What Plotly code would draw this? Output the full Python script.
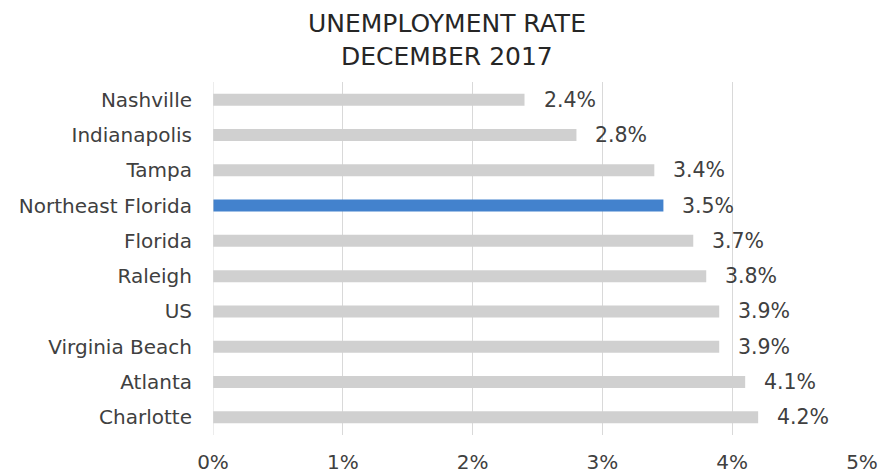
import plotly.graph_objects as go

categories = ["Nashville", "Indianapolis", "Tampa", "Northeast Florida", "Florida",
              "Raleigh", "US", "Virginia Beach", "Atlanta", "Charlotte"]
values = [2.4, 2.8, 3.4, 3.47, 3.7, 3.8, 3.9, 3.9, 4.1, 4.2]
highlight = "Northeast Florida"
tick_vals = [0, 1, 2, 3, 4, 5]
tick_text = ["0%", "1%", "2%", "3%", "4%", "5%"]
title_lines = ["UNEMPLOYMENT RATE", "DECEMBER 2017"]

FONT = "DejaVu Sans"
W, H = 894, 475
ML, MR, MT, MB = 213, 32, 82, 40
colors = ["#4382CD" if c == highlight else "#D0D0D0" for c in categories]

fig = go.Figure()
fig.add_trace(go.Bar(
    x=values, y=categories, orientation="h",
    marker=dict(color=colors, line=dict(width=0)),
    width=0.34, hoverinfo="skip",
))
for c, v in zip(categories, values):
    fig.add_annotation(x=v, y=c, text=f"{v:.1f}%", showarrow=False,
                       xanchor="left", yanchor="middle", xshift=17,
                       font=dict(family=FONT, size=20.5, color="#404040"))

# title lines, centred on the page
plot_w = W - ML - MR
plot_h = H - MT - MB
for i, line in enumerate(title_lines):
    center_px = 24 + 33 * i
    fig.add_annotation(text=line, showarrow=False, xref="paper", yref="paper",
                       x=(W / 2 - ML) / plot_w, y=1 + (MT - center_px) / plot_h,
                       xanchor="center", yanchor="middle",
                       font=dict(family=FONT, size=25, color="#262626"))

fig.update_layout(
    width=W, height=H,
    margin=dict(l=ML, r=MR, t=MT, b=MB, autoexpand=False),
    paper_bgcolor="white", plot_bgcolor="white",
    showlegend=False,
    font=dict(family=FONT, size=20, color="#404040"),
    xaxis=dict(range=[0, 5], tickvals=tick_vals, ticktext=tick_text,
               showgrid=True, gridcolor="#D9D9D9", gridwidth=1,
               zeroline=False, showline=False, ticks="", automargin=False,
               tickfont=dict(size=20, color="#404040"),
               ticklabelstandoff=13, fixedrange=True),
    yaxis=dict(autorange="reversed", showgrid=False, zeroline=False, showline=False,
               ticks="", ticklabelstandoff=20, automargin=False,
               tickfont=dict(size=20, color="#404040")),
)
fig.add_shape(type="line", xref="x", yref="paper", x0=0, x1=0, y0=0, y1=1,
              line=dict(color="#D9D9D9", width=1))

fig.write_html("out.html")
